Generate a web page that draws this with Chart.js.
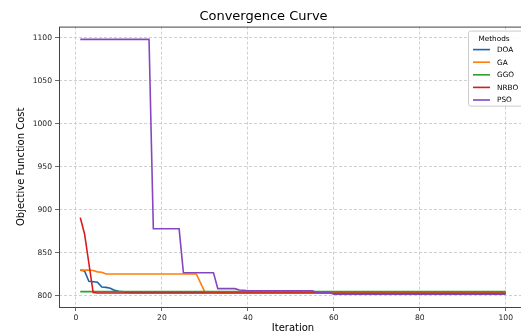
<!DOCTYPE html>
<html>
<head>
<meta charset="utf-8">
<script src="https://cdn.jsdelivr.net/npm/chart.js@4.4.1/dist/chart.umd.min.js"></script>
<style>
html, body { margin: 0; padding: 0; overflow: hidden; background: #fff; }
#wrap { width: 530px; height: 333px; }
</style>
</head>
<body>
<div id="wrap"><canvas id="convChart" width="530" height="333"></canvas></div>
<script>
const iterations = [
    1, 2, 3, 4, 5, 6, 7, 8, 9, 10, 11, 12, 13, 14, 15, 16, 17, 18, 19, 20,
    21, 22, 23, 24, 25, 26, 27, 28, 29, 30, 31, 32, 33, 34, 35, 36, 37, 38, 39, 40,
    41, 42, 43, 44, 45, 46, 47, 48, 49, 50, 51, 52, 53, 54, 55, 56, 57, 58, 59, 60,
    61, 62, 63, 64, 65, 66, 67, 68, 69, 70, 71, 72, 73, 74, 75, 76, 77, 78, 79, 80,
    81, 82, 83, 84, 85, 86, 87, 88, 89, 90, 91, 92, 93, 94, 95, 96, 97, 98, 99, 100
];
const methods = ['DOA', 'GA', 'GGO', 'NRBO', 'PSO'];
const colors = ['#1f62ab', '#ff7f0e', '#2ca02c', '#d81c1c', '#8547bf'];

const doa = [
    830, 829, 817, 816.5, 816, 810.5, 810, 809, 806.5, 805.5,
    805, 804.5, 804, 804, 804, 804, 804, 804, 804, 804,
    804, 804, 804, 804, 804, 804, 804, 804, 804, 804,
    804, 804, 804, 804, 804, 804, 804, 804, 804, 804,
    804, 804, 804, 804, 804, 804, 804, 804, 804, 804,
    804, 804, 804, 804, 804, 804, 804, 804, 804, 804,
    804, 804, 804, 804, 804, 804, 804, 804, 804, 804,
    804, 804, 804, 804, 804, 804, 804, 804, 804, 804,
    804, 804, 804, 804, 804, 804, 804, 804, 804, 804,
    804, 804, 804, 804, 804, 804, 804, 804, 804, 804
];
const ga = [
    830, 830, 830, 829.5, 828, 827.5, 825.5, 825.5, 825.5, 825.5,
    825.5, 825.5, 825.5, 825.5, 825.5, 825.5, 825.5, 825.5, 825.5, 825.5,
    825.5, 825.5, 825.5, 825.5, 825.5, 825.5, 825.5, 825.5, 815, 804.5,
    804.5, 804.5, 804.5, 804.5, 804.5, 804.5, 804.5, 804.5, 804.5, 804.5,
    804.5, 804.5, 804.5, 804.5, 804.5, 804.5, 804.5, 804.5, 804.5, 804.5,
    804.5, 804.5, 804.5, 804.5, 804.5, 804.5, 804.5, 804.5, 804.5, 804.5,
    804.5, 804.5, 804.5, 804.5, 804.5, 804.5, 804.5, 804.5, 804.5, 804.5,
    804.5, 804.5, 804.5, 804.5, 804.5, 804.5, 804.5, 804.5, 804.5, 804.5,
    804.5, 804.5, 804.5, 804.5, 804.5, 804.5, 804.5, 804.5, 804.5, 804.5,
    804.5, 804.5, 804.5, 804.5, 804.5, 804.5, 804.5, 804.5, 804.5, 804.5
];
const ggo = [
    805, 805, 805, 805, 805, 805, 805, 805, 805, 805,
    805, 805, 805, 805, 805, 805, 805, 805, 805, 805,
    805, 805, 805, 805, 805, 805, 805, 805, 805, 805,
    805, 805, 805, 805, 805, 805, 805, 805, 805, 805,
    805, 805, 805, 805, 805, 805, 805, 805, 805, 805,
    805, 805, 805, 805, 805, 805, 805, 805, 805, 805,
    805, 805, 805, 805, 805, 805, 805, 805, 805, 805,
    805, 805, 805, 805, 805, 805, 805, 805, 805, 805,
    805, 805, 805, 805, 805, 805, 805, 805, 805, 805,
    805, 805, 805, 805, 805, 805, 805, 805, 805, 805
];
const nrbo = [
    891, 872, 838, 804, 803.5, 803.5, 803.5, 803.5, 803.5, 803.5,
    803.5, 803.5, 803.5, 803.5, 803.5, 803.5, 803.5, 803.5, 803.5, 803.5,
    803.5, 803.5, 803.5, 803.5, 803.5, 803.5, 803.5, 803.5, 803.5, 803.5,
    803.5, 803.5, 803.5, 803.5, 803.5, 803.5, 803.5, 803.5, 803.5, 803.5,
    803.5, 803.5, 803.5, 803.5, 803.5, 803.5, 803.5, 803.5, 803.5, 803.5,
    803.5, 803.5, 803.5, 803.5, 803.5, 803.5, 803.5, 803.5, 803.5, 803,
    803, 803, 803, 803, 803, 803, 803, 803, 803, 803,
    803, 803, 803, 803, 803, 803, 803, 803, 803, 803,
    803, 803, 803, 803, 803, 803, 803, 803, 803, 803,
    803, 803, 803, 803, 803, 803, 803, 803, 803, 803
];
const pso = [
    1098, 1098, 1098, 1098, 1098, 1098, 1098, 1098, 1098, 1098,
    1098, 1098, 1098, 1098, 1098, 1098, 1098, 878, 878, 878,
    878, 878, 878, 878, 827, 827, 827, 827, 827, 827,
    827, 827, 808.5, 808.5, 808.5, 808.5, 808.5, 807, 806.5, 806,
    806, 806, 806, 806, 806, 806, 806, 806, 806, 806,
    806, 806, 806, 806, 806, 804, 804, 804, 804, 802,
    802, 802, 802, 802, 802, 802, 802, 802, 802, 802,
    802, 802, 802, 802, 802, 802, 802, 802, 802, 802,
    802, 802, 802, 802, 802, 802, 802, 802, 802, 802,
    802, 802, 802, 802, 802, 802, 802, 802, 802, 802
];
const series = [doa, ga, ggo, nrbo, pso];

const xTicks = [0, 20, 40, 60, 80, 100];
const yTicks = [800, 850, 900, 950, 1000, 1050, 1100];

const font = '"DejaVu Sans", sans-serif';

// matplotlib-style legend box in the upper right of the plot
const legendBox = {
    id: 'legendBox',
    afterDraw(chart) {
        const { ctx, chartArea } = chart;
        const x = chartArea.right - 59, y = chartArea.top + 4, w = 56, h = 75;
        ctx.save();
        ctx.fillStyle = 'rgba(255,255,255,0.85)';
        ctx.strokeStyle = '#cccccc';
        ctx.lineWidth = 1;
        ctx.beginPath();
        ctx.roundRect(x + 0.5, y + 0.5, w, h, 2);
        ctx.fill();
        ctx.stroke();
        ctx.font = '7.3px ' + font;
        ctx.fillStyle = '#000';
        ctx.textBaseline = 'middle';
        ctx.textAlign = 'center';
        ctx.fillText('Methods', x + 26, y + 9);
        ctx.textAlign = 'left';
        chart.data.datasets.forEach((ds, i) => {
            const ly = y + 19 + i * 12.6;
            ctx.strokeStyle = ds.borderColor;
            ctx.lineWidth = 1.6;
            ctx.beginPath();
            ctx.moveTo(x + 5, ly);
            ctx.lineTo(x + 22, ly);
            ctx.stroke();
            ctx.fillText(ds.label, x + 29, ly + 0.5);
        });
        ctx.restore();
    }
};

// spines around the axes
const frame = {
    id: 'frame',
    afterDatasetsDraw(chart) {
        const { ctx, chartArea } = chart;
        ctx.save();
        ctx.strokeStyle = '#444';
        ctx.lineWidth = 1;
        ctx.strokeRect(chartArea.left + 0.5, chartArea.top + 0.5,
            chartArea.right - chartArea.left, chartArea.bottom - chartArea.top);
        ctx.restore();
    }
};

const gridOpts = {
    color: '#c4c4c4',
    lineWidth: 0.8,
    tickLength: 4,
    tickColor: '#444',
    tickBorderDash: []
};

new Chart(document.getElementById('convChart'), {
    type: 'line',
    data: {
        labels: iterations,
        datasets: methods.map((m, i) => ({
            label: m,
            data: series[i],
            borderColor: colors[i],
            backgroundColor: colors[i],
            borderWidth: 1.6,
            pointRadius: 0,
            tension: 0,
            order: methods.length - i
        }))
    },
    options: {
        responsive: false,
        animation: false,
        devicePixelRatio: 1,
        layout: { padding: { right: 3 } },
        plugins: {
            legend: { display: false },
            tooltip: { enabled: false },
            title: {
                display: true,
                text: 'Convergence Curve',
                color: '#000',
                font: { family: font, size: 13, weight: 'normal' },
                padding: { top: 9, bottom: 2 }
            }
        },
        scales: {
            x: {
                type: 'linear',
                min: -3.95,
                max: 104.95,
                afterBuildTicks: s => { s.ticks = xTicks.map(v => ({ value: v })); },
                afterFit: s => { s.height = 26; },
                border: { display: false, dash: [3, 2] },
                grid: gridOpts,
                ticks: {
                    color: '#222',
                    font: { family: font, size: 7.6 },
                    padding: 2,
                    maxRotation: 0,
                    callback: v => String(v)
                },
                title: {
                    display: true,
                    text: 'Iteration',
                    color: '#000',
                    font: { family: font, size: 10 },
                    padding: { top: 0, bottom: -1 }
                }
            },
            y: {
                min: 787.2,
                max: 1112.8,
                afterBuildTicks: s => { s.ticks = yTicks.map(v => ({ value: v })); },
                afterFit: s => { s.width = 59; },
                border: { display: false, dash: [3, 2] },
                grid: gridOpts,
                ticks: {
                    color: '#222',
                    font: { family: font, size: 7.6 },
                    padding: 3,
                    callback: v => String(v)
                },
                title: {
                    display: true,
                    text: 'Objective Function Cost',
                    color: '#000',
                    font: { family: font, size: 10 },
                    padding: { top: 15, bottom: 0 }
                }
            }
        }
    },
    plugins: [frame, legendBox]
});
</script>
</body>
</html>
